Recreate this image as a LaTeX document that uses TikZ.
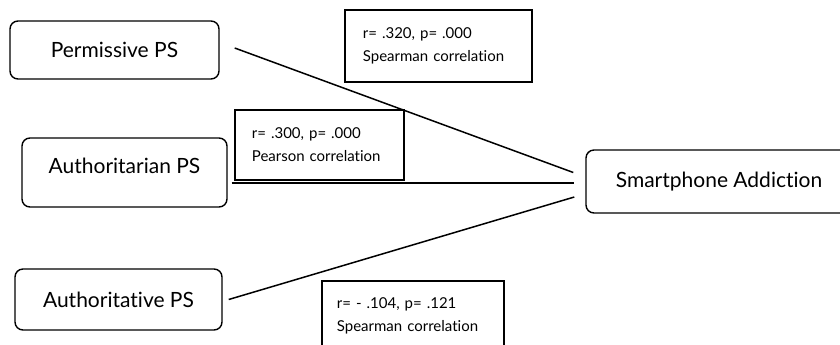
\documentclass[tikz,border=0pt]{standalone}
\usepackage{fontspec}
\setmainfont{Lato}[Ligatures=NoCommon]
\begin{document}
\begin{tikzpicture}[x=0.5pt,y=-0.5pt,
		ps/.style={draw,rounded corners=4pt,line width=0.7pt,inner sep=0pt,font=\fontsize{10.5}{12}\selectfont},
		stat/.style={draw,line width=0.9pt,anchor=north west,align=left,inner ysep=0pt,font=\fontsize{7.5}{11.5}\selectfont},
		link/.style={line width=0.75pt}]
	\useasboundingbox (0,0) rectangle (840,344);
	\clip (0,0) rectangle (840,344);
	% parenting styles
	\node[ps,minimum width=104.5pt,minimum height=29pt] (perm) at (114.5,50) {Permissive PS};
	\node[ps,minimum width=102.5pt,minimum height=34.5pt,text depth=7pt] (auth) at (124.5,172.5) {Authoritarian PS};
	\node[ps,minimum width=103.5pt,minimum height=30.5pt] (autv) at (118.5,299.5) {Authoritative PS};
	% outcome
	\node[ps,minimum width=133pt,minimum height=31.5pt] (addict) at (719,181.5) {Smartphone Addiction};
	% links
	\draw[link] ([shift={(15,-2)}]perm.east) -- ([shift={(-12,-9)}]addict.west);
	\draw[link,line width=1pt] ([shift={(4,10.5)}]auth.east) -- ([shift={(-11,1.5)}]addict.west);
	\draw[link] ([shift={(6,0)}]autv.east) -- ([shift={(-11,15.5)}]addict.west);
	% correlations
	\node[stat,inner xsep=9pt,text width=75.5pt,minimum height=36pt] (rperm) at (344,9) {r= .320, p= .000\\Spearman correlation};
	\node[stat,inner xsep=8.5pt,text width=67.5pt,minimum height=35pt] (rauth) at (234,109) {r= .300, p= .000\\Pearson correlation};
	\node[stat,inner xsep=7.5pt,inner ysep=8.5pt,text width=76pt] (rautv) at (321,280) {r= - .104, p= .121\\Spearman correlation\rule[-20pt]{0pt}{20pt}};
\end{tikzpicture}
\end{document}
